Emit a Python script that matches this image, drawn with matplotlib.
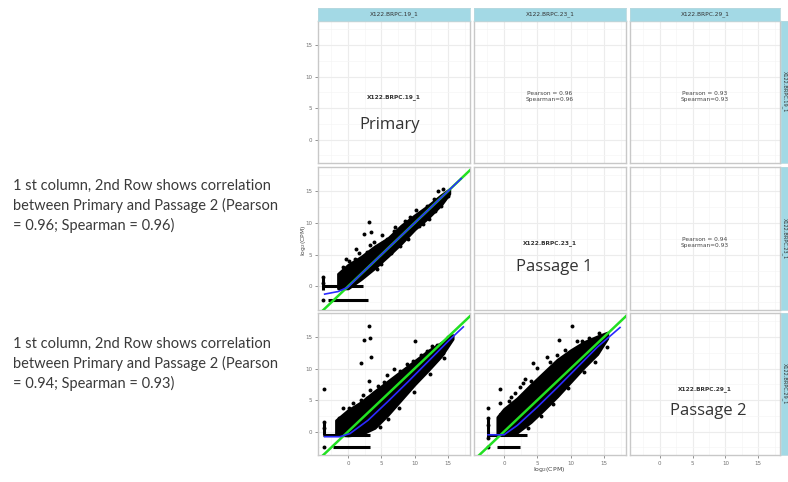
import matplotlib
matplotlib.use("Agg")
import matplotlib.pyplot as plt

# ---------------- data ----------------
sample_ids = ["X122.BRPC.19_1", "X122.BRPC.23_1", "X122.BRPC.29_1"]
sample_names = ["Primary", "Passage 1", "Passage 2"]
axis_ticks = [0, 5, 10, 15]
xlim = (-4.5, 18.3)
ylim = (-3.7, 18.8)

# upper-triangle correlation text (row, col)
pearson = {(0, 1): 0.96, (0, 2): 0.93, (1, 2): 0.94}
spearman = {(0, 1): 0.96, (0, 2): 0.93, (1, 2): 0.93}

notes = [
    "1 st column, 2nd Row shows correlation\nbetween Primary and Passage 2 (Pearson\n= 0.96; Spearman = 0.96)",
    "1 st column, 2nd Row shows correlation\nbetween Primary and Passage 2 (Pearson\n= 0.94; Spearman = 0.93)",
]

# dense point cloud envelopes (lower-triangle panels)
band_x_21 = [-1.5, 0, 2, 4, 6, 8, 10, 12, 14, 15.2]
band_lo_21 = [-0.3, -0.3, 1.2, 2.9, 4.8, 6.8, 9.0, 10.8, 12.9, 14.6]
band_hi_21 = [2.0, 3.4, 4.7, 6.3, 7.6, 9.6, 11.2, 12.7, 14.4, 15.3]

band_x_31 = [-1.8, 0, 2, 4, 6, 8, 10, 12, 14, 15.7]
band_lo_31 = [-0.5, -0.6, -0.4, 0.6, 2.7, 5.1, 7.5, 9.7, 12.0, 14.7]
band_hi_31 = [1.8, 3.4, 4.7, 6.4, 8.0, 9.6, 11.2, 12.8, 14.1, 15.3]

band_x_32 = [-1.0, 0, 2, 4, 6, 8, 10, 12, 14, 15.5]
band_lo_32 = [-0.5, -0.5, -0.1, 1.5, 3.5, 5.6, 7.9, 10.2, 12.3, 14.8]
band_hi_32 = [2.3, 3.6, 5.3, 7.4, 9.4, 11.4, 12.9, 14.2, 15.1, 15.7]

# sparse / outlying points
pts_x_21 = [3.1, 2.4, 3.4, 3.3, 14.2, 14.0, -0.7, 1.0, 2.8, 5.8, 9.3, 11.8, 4.3, 7.8, 10.7, 12.2,
            -3.7, -3.7, -3.7, -1.1, -1.1, 0.2, 1.6, 3.9, 5.1, 6.9, 8.5, 10.2, 12.9, 13.5,
            5.0, 6.4, 9.0, 11.3, 13.1, 15.0, -0.3, 1.2, 7.1]
pts_y_21 = [10.1, 8.2, 8.5, 6.6, 15.3, 12.6, 3.0, 4.4, 5.4, 7.4, 10.9, 12.6, 2.7, 6.3, 9.5, 10.6,
            1.5, 0.6, -2.05, 1.9, 1.0, 4.0, 5.2, 7.0, 8.1, 8.7, 10.3, 12.0, 13.8, 15.0,
            3.6, 5.3, 7.5, 9.9, 11.9, 14.3, 4.3, 5.9, 9.3]

pts_x_31 = [3.1, 3.3, 2.4, 1.9, 3.4, 3.1, 3.3, -3.6, 0.1, 1.9, 10.0, 13.3, 14.2, 5.8, 6.9, 2.8,
            7.8, 9.7, 11.8, -3.6, -3.6, -3.6, -1.4, 0.8, 2.2, 4.5, 5.4, 8.8, 10.9, 12.6, 15.0,
            4.8, 6.0, 7.6, 9.9, 12.3, 14.4, -0.8, 3.9]
pts_y_31 = [16.8, 14.9, 14.6, 10.8, 11.8, 8.0, 6.6, 6.7, 3.8, 5.0, 14.3, 13.8, 12.4, 8.9, 10.0, 5.3,
            9.6, 11.2, 12.7, 1.6, 0.5, -2.5, 2.1, 4.5, 5.8, 7.2, 7.9, 10.7, 12.2, 13.6, 15.0,
            0.7, 2.0, 3.8, 6.3, 9.1, 11.6, 3.7, 6.2]

pts_x_32 = [10.2, 8.3, 10.9, 6.5, 4.4, 4.1, -0.6, -0.6, -2.4, 15.2, 15.5, 2.4, 5.0, 8.0, 11.7,
            -2.4, -2.4, -2.4, -2.4, 0.8, 1.7, 3.2, 6.9, 9.2, 12.8, 14.2, 3.6, 5.6, 7.4, 9.6,
            12.0, 13.6, 1.1, 2.9]
pts_y_32 = [16.8, 14.6, 14.3, 11.8, 10.9, 8.0, 6.8, 4.6, 3.8, 15.1, 13.4, 7.0, 10.1, 12.1, 14.3,
            2.2, 1.0, -1.0, -2.5, 4.9, 6.1, 8.3, 11.0, 12.9, 14.9, 15.6, 0.6, 2.5, 4.4, 6.9,
            9.4, 11.0, 5.5, 7.7]

# horizontal streaks of low-count genes: (y, x_start, x_end)
streaks_21 = [(0.0, -3.7, 2.2), (-2.05, -3.0, 3.0)]
streaks_31 = [(-0.6, -3.7, 3.3), (-2.5, -2.3, 3.3)]
streaks_32 = [(-0.5, -2.6, 3.5), (-2.5, -1.1, 2.4)]

# vertical stacks: (x, y_start, y_end)
stacks_21 = [(-3.7, -0.5, 1.5), (-1.1, -0.5, 1.9)]
stacks_31 = [(-3.6, -0.6, 1.6), (-1.4, -0.3, 2.1)]
stacks_32 = [(-2.4, -1.0, 2.2), (-0.6, -0.5, 2.9)]

# loess fits
loess_x_21 = [-3.5, -1.5, 0, 2, 5, 10, 15, 17]
loess_y_21 = [-1.2, -0.8, -0.1, 2.0, 5.0, 10.0, 15.0, 17.0]
loess_x_31 = [-3.5, -1.2, 0.3, 3, 6, 9, 12, 15, 17.3]
loess_y_31 = [-0.8, -0.8, -0.3, 1.8, 4.8, 7.9, 11.1, 14.3, 16.6]
loess_x_32 = [-2.4, 0, 2, 5, 8, 11, 14, 17.4]
loess_y_32 = [-0.5, -0.5, 1.0, 3.9, 7.0, 10.2, 13.4, 16.5]

lower = {
    (1, 0): (band_x_21, band_lo_21, band_hi_21, pts_x_21, pts_y_21, streaks_21, stacks_21, loess_x_21, loess_y_21),
    (2, 0): (band_x_31, band_lo_31, band_hi_31, pts_x_31, pts_y_31, streaks_31, stacks_31, loess_x_31, loess_y_31),
    (2, 1): (band_x_32, band_lo_32, band_hi_32, pts_x_32, pts_y_32, streaks_32, stacks_32, loess_x_32, loess_y_32),
}

# ---------------- layout ----------------
W, H = 788, 482
fig = plt.figure(figsize=(W / 100, H / 100), dpi=100)
col_l = [318, 474, 630]
col_r = [470, 626, 780]
row_t = [21, 167, 313]
row_b = [163, 310, 455]
big_pos = [(0.47, 0.27), (0.53, 0.30), (0.52, 0.31)]

def rect(x0, y0, x1, y1):
    return [x0 / W, 1 - y1 / H, (x1 - x0) / W, (y1 - y0) / H]

strip_col = "#a3d9e5"
grid_col = "#ececec"
border_col = "#c8c8c8"
tick_col = "#808080"

for r in range(3):
    for c in range(3):
        ax = fig.add_axes(rect(col_l[c], row_t[r], col_r[c], row_b[r]))
        ax.set_xlim(*xlim)
        ax.set_ylim(*ylim)
        ax.set_xticks(axis_ticks)
        ax.set_yticks(axis_ticks)
        ax.set_xticks([-2.5, 2.5, 7.5, 12.5, 17.5], minor=True)
        ax.set_yticks([-2.5, 2.5, 7.5, 12.5, 17.5], minor=True)
        ax.grid(True, which="major", color=grid_col, lw=0.8)
        ax.grid(True, which="minor", color="#f5f5f5", lw=0.5)
        ax.set_axisbelow(True)
        for s in ax.spines.values():
            s.set_color(border_col)
            s.set_linewidth(1.0)
        ax.tick_params(which="minor", length=0)
        ax.tick_params(which="major", length=2.5, width=0.6, color=tick_col,
                       labelsize=4, labelcolor="#707070", pad=1.5)
        if c != 0:
            ax.tick_params(axis="y", which="major", length=0, labelleft=False)
        if r != 2:
            ax.tick_params(axis="x", which="major", length=0, labelbottom=False)

        if r == c:
            ax.text(0.5, 0.465, sample_ids[r], transform=ax.transAxes, ha="center",
                    va="center", fontsize=4.2, color="#333333", fontweight="bold")
            bx_, by_ = big_pos[r]
            ax.text(bx_, by_, sample_names[r], transform=ax.transAxes, ha="center",
                    va="center", fontsize=12, color="#333333", family="Open Sans")
        elif c > r:
            ax.text(0.5, 0.47,
                    f"Pearson = {pearson[(r, c)]:.2f}\nSpearman={spearman[(r, c)]:.2f}",
                    transform=ax.transAxes, ha="center", va="center",
                    fontsize=4.2, color="#444444", linespacing=1.3)
        else:
            bx, blo, bhi, px, py, streaks, stacks, lx, ly = lower[(r, c)]
            ax.fill_between(bx, blo, bhi, color="black", lw=2.0, edgecolor="black", zorder=2)
            for (yy, x0, x1) in streaks:
                ax.hlines(yy, x0, x1, color="black", lw=2.2, zorder=2)
            for (xx, y0, y1) in stacks:
                ax.vlines(xx, y0, y1, color="black", lw=2.2, zorder=2)
            ax.scatter(px, py, s=8, color="black", zorder=3, lw=0)
            ax.plot(xlim, xlim, color="#22e022", lw=1.8, zorder=4)
            ax.plot(lx, ly, color="#2a2aff", lw=1.2, zorder=5)

# top strips
for c in range(3):
    sa = fig.add_axes(rect(col_l[c], 8, col_r[c], 21))
    sa.set_facecolor(strip_col)
    sa.set_xticks([]); sa.set_yticks([])
    for s in sa.spines.values():
        s.set_color("#b8d8de"); s.set_linewidth(0.6)
    sa.text(0.5, 0.5, sample_ids[c], transform=sa.transAxes, ha="center", va="center",
            fontsize=4.2, color="#333333")

# right strips (cut by the image edge)
for r in range(3):
    sa = fig.add_axes(rect(781, row_t[r], 788, row_b[r]))
    sa.set_facecolor(strip_col)
    sa.set_xticks([]); sa.set_yticks([])
    for s in sa.spines.values():
        s.set_color("#b8d8de"); s.set_linewidth(0.6)
    sa.text(0.5, 0.5, sample_ids[r], transform=sa.transAxes, ha="center", va="center",
            fontsize=3.6, color="#333333", rotation=-90)

# axis titles
fig.text(549 / W, 1 - 470 / H, "log$_2$(CPM)", ha="center", va="center", fontsize=4.5, color="#444444")
fig.text(303 / W, 1 - 240 / H, "log$_2$(CPM)", ha="center", va="center", fontsize=4.3,
         color="#444444", rotation=90)

# left notes
for txt, ytop in zip(notes, [179, 337]):
    fig.text(13 / W, 1 - ytop / H, txt, ha="left", va="top", fontsize=10.5,
             family="Lato", color="#3a3a3a", linespacing=1.42)

fig.savefig("out.png", dpi=100)
